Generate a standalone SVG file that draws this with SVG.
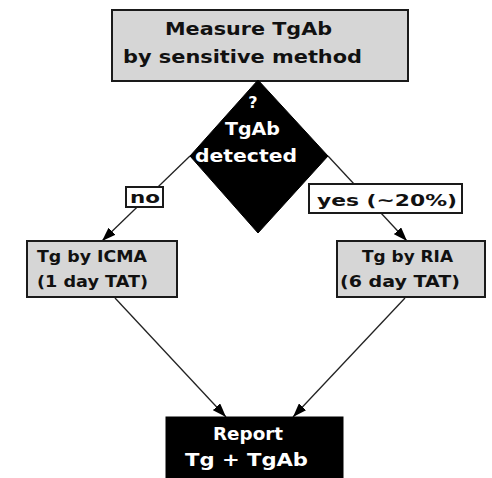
<svg xmlns="http://www.w3.org/2000/svg" width="492" height="478" viewBox="0 0 492 478">
<defs>
<style>
.box{fill:#d6d6d6;stroke:#1a1a1a;stroke-width:2}
.lbl{fill:#ffffff;stroke:#1a1a1a;stroke-width:2}
.dark{fill:#000000;stroke:#000000;stroke-width:1}
.t{font-family:"DejaVu Sans",sans-serif;font-weight:bold;fill:#111111}
.w{font-family:"DejaVu Sans",sans-serif;font-weight:bold;fill:#ffffff}
.edge{stroke:#222222;stroke-width:1.3;fill:none}
</style>
<marker id="ah" viewBox="0 0 14 10" refX="14" refY="5" markerWidth="14" markerHeight="10" markerUnits="userSpaceOnUse" orient="auto">
<path d="M0,0 L14,5 L0,10 Z" fill="#000000"/>
</marker>
</defs>
<rect width="492" height="478" fill="#ffffff"/>
<g id="connectors">
<line class="edge" x1="190" y1="156" x2="102" y2="241" marker-end="url(#ah)"/>
<line class="edge" x1="328" y1="156" x2="407" y2="241" marker-end="url(#ah)"/>
<line class="edge" x1="115" y1="298" x2="226" y2="417" marker-end="url(#ah)"/>
<line class="edge" x1="405" y1="298" x2="293" y2="417" marker-end="url(#ah)"/>
</g>
<g id="measure">
<rect class="box" x="112" y="10" width="296" height="71"/>
<text class="t" x="165" y="35" font-size="18" textLength="167" lengthAdjust="spacingAndGlyphs">Measure TgAb</text>
<text class="t" x="123" y="63" font-size="18" textLength="239" lengthAdjust="spacingAndGlyphs">by sensitive method</text>
</g>
<g id="decision">
<polygon class="dark" points="258,80 328,156 258,233 190,156"/>
<text class="w" x="253" y="108" font-size="16" text-anchor="middle">?</text>
<text class="w" x="225" y="135" font-size="17" textLength="55" lengthAdjust="spacingAndGlyphs">TgAb</text>
<text class="w" x="195" y="162" font-size="17" textLength="102" lengthAdjust="spacingAndGlyphs">detected</text>
</g>
<g id="label-no">
<rect class="lbl" x="126" y="187" width="37" height="20"/>
<text class="t" x="130" y="203" font-size="15" textLength="30" lengthAdjust="spacingAndGlyphs">no</text>
</g>
<g id="label-yes">
<rect class="lbl" x="309" y="184" width="153" height="29"/>
<text class="t" x="317" y="206" font-size="16" textLength="140" lengthAdjust="spacingAndGlyphs">yes (~20%)</text>
</g>
<g id="icma">
<rect class="box" x="27" y="241" width="150" height="56"/>
<text class="t" x="37" y="262" font-size="15" textLength="110" lengthAdjust="spacingAndGlyphs">Tg by ICMA</text>
<text class="t" x="37" y="287" font-size="15" textLength="111" lengthAdjust="spacingAndGlyphs">(1 day TAT)</text>
</g>
<g id="ria">
<rect class="box" x="337" y="241" width="148" height="56"/>
<text class="t" x="362" y="262" font-size="15" textLength="91" lengthAdjust="spacingAndGlyphs">Tg by RIA</text>
<text class="t" x="340" y="287" font-size="15" textLength="120" lengthAdjust="spacingAndGlyphs">(6 day TAT)</text>
</g>
<g id="report">
<rect class="dark" x="166" y="417" width="177" height="62"/>
<text class="w" x="213" y="440" font-size="17" textLength="70" lengthAdjust="spacingAndGlyphs">Report</text>
<text class="w" x="185" y="466" font-size="18" textLength="123" lengthAdjust="spacingAndGlyphs">Tg + TgAb</text>
</g>
</svg>
